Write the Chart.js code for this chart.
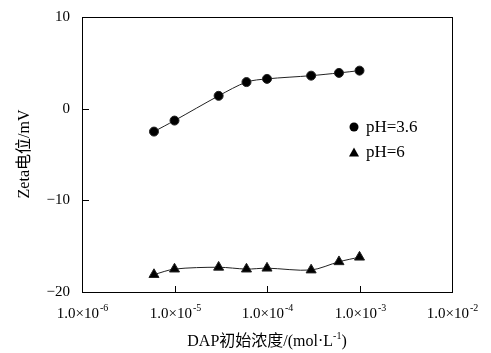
<!DOCTYPE html>
<html>
<head>
<meta charset="utf-8">
<script src="https://cdn.jsdelivr.net/npm/chart.js"></script>
<style>
  html, body { margin: 0; padding: 0; background: #fff; }
  #wrap { width: 491px; height: 353px; }
</style>
</head>
<body>
<div id="wrap"><canvas id="chart" width="491" height="353"></canvas></div>
<script>
// concentration of DAP (mol/L)
const conc = [6e-6, 1e-5, 3e-5, 6e-5, 1e-4, 3e-4, 6e-4, 1e-3];
const zetaPH36 = [-2.5, -1.3, 1.4, 2.9, 3.25, 3.6, 3.9, 4.15];
const zetaPH6 = [-18.1, -17.5, -17.3, -17.5, -17.4, -17.6, -16.7, -16.2];
const seriesNames = ['pH=3.6', 'pH=6'];
const xTickExp = [-6, -5, -4, -3, -2];
const yTicks = [10, 0, -10, -20];

const serif = '"Liberation Serif", "Times New Roman", serif';
const cjk = '"Liberation Serif", "Noto Sans CJK SC", serif';

// custom decoration: inward ticks, tick labels with superscripts, titles, legend
const decor = {
  id: 'decor',
  afterDraw(chart) {
    const ctx = chart.ctx;
    const xs = chart.scales.x, ys = chart.scales.y;
    const a = chart.chartArea;
    ctx.save();
    ctx.strokeStyle = '#000';
    ctx.fillStyle = '#000';
    ctx.lineWidth = 1;

    // y ticks + labels
    ctx.font = '15px ' + serif;
    ctx.textAlign = 'right';
    ctx.textBaseline = 'middle';
    yTicks.forEach(v => {
      const py = Math.round(ys.getPixelForValue(v)) + 0.5;
      ctx.beginPath();
      ctx.moveTo(a.left, py);
      ctx.lineTo(a.left + 7, py);
      ctx.stroke();
      const lab = v < 0 ? '\u2212' + Math.abs(v) : String(v);
      ctx.fillText(lab, a.left - 12, py);
    });

    // x ticks + labels
    xTickExp.forEach(e => {
      const px = Math.round(xs.getPixelForValue(Math.pow(10, e))) + 0.5;
      ctx.beginPath();
      ctx.moveTo(px, a.bottom);
      ctx.lineTo(px, a.bottom - 6);
      ctx.stroke();
      const base = '1.0\u00d710';
      const sup = String(e);
      ctx.font = '15px ' + serif;
      const wb = ctx.measureText(base).width;
      ctx.font = '10px ' + serif;
      const ws = ctx.measureText(sup).width + 1;
      const x0 = px - (wb + ws) / 2;
      ctx.textAlign = 'left';
      ctx.textBaseline = 'alphabetic';
      ctx.font = '15px ' + serif;
      ctx.fillText(base, x0, a.bottom + 26);
      ctx.font = '10px ' + serif;
      ctx.fillText(sup, x0 + wb + 1, a.bottom + 19);
    });

    // x title
    ctx.font = '16px ' + cjk;
    const t1 = 'DAP初始浓度/(mol·L';
    const t2 = ')';
    const sup = '-1';
    const w1 = ctx.measureText(t1).width;
    const w2 = ctx.measureText(t2).width;
    ctx.font = '10px ' + serif;
    const ws = ctx.measureText(sup).width;
    const cx = 267;
    let x0 = cx - (w1 + ws + w2) / 2;
    const by = 346;
    ctx.textAlign = 'left';
    ctx.textBaseline = 'alphabetic';
    ctx.font = '16px ' + cjk;
    ctx.fillText(t1, x0, by);
    ctx.font = '10px ' + serif;
    ctx.fillText(sup, x0 + w1, by - 7);
    ctx.font = '16px ' + cjk;
    ctx.fillText(t2, x0 + w1 + ws, by);

    // y title
    ctx.save();
    ctx.translate(25, 154);
    ctx.rotate(-Math.PI / 2);
    ctx.textAlign = 'center';
    ctx.textBaseline = 'middle';
    ctx.font = '16px ' + cjk;
    ctx.fillText('Zeta电位/mV', 0, 0);
    ctx.restore();

    // legend
    ctx.font = '17px ' + serif;
    ctx.textAlign = 'left';
    ctx.textBaseline = 'middle';
    ctx.beginPath();
    ctx.arc(354, 127, 4.5, 0, Math.PI * 2);
    ctx.fill();
    ctx.fillText(seriesNames[0], 366, 128);
    ctx.beginPath();
    ctx.moveTo(354, 147.5);
    ctx.lineTo(359, 156.5);
    ctx.lineTo(349, 156.5);
    ctx.closePath();
    ctx.fill();
    ctx.fillText(seriesNames[1], 366, 153);
    ctx.restore();
  }
};

new Chart(document.getElementById('chart'), {
  type: 'line',
  data: {
    datasets: [
      {
        label: seriesNames[0],
        data: conc.map((c, i) => ({ x: c, y: zetaPH36[i] })),
        borderColor: '#222',
        backgroundColor: '#000',
        borderWidth: 1,
        pointStyle: 'circle',
        pointRadius: 4.5,
        pointHoverRadius: 4.5,
        tension: 0.3
      },
      {
        label: seriesNames[1],
        data: conc.map((c, i) => ({ x: c, y: zetaPH6[i] })),
        borderColor: '#222',
        backgroundColor: '#000',
        borderWidth: 1,
        pointStyle: 'triangle',
        pointRadius: 5.8,
        pointHoverRadius: 5.8,
        tension: 0.3
      }
    ]
  },
  options: {
    responsive: false,
    animation: false,
    events: [],
    layout: { padding: { top: 17, right: 39, left: 0, bottom: 0 } },
    plugins: { legend: { display: false }, tooltip: { enabled: false } },
    scales: {
      x: {
        type: 'logarithmic',
        min: 1e-6,
        max: 1e-2,
        grid: { display: false },
        border: { display: true, color: '#000', width: 1 },
        ticks: { display: false },
        afterFit(s) { s.height = 61; }
      },
      y: {
        min: -20,
        max: 10,
        grid: { display: false },
        border: { display: true, color: '#000', width: 1 },
        ticks: { display: false },
        afterFit(s) { s.width = 82; }
      },
      x2: {
        type: 'linear',
        position: 'top',
        grid: { display: false },
        border: { display: true, color: '#000', width: 1 },
        ticks: { display: false },
        afterFit(s) { s.height = 0; }
      },
      y2: {
        type: 'linear',
        position: 'right',
        grid: { display: false },
        border: { display: true, color: '#000', width: 1 },
        ticks: { display: false },
        afterFit(s) { s.width = 0; }
      }
    }
  },
  plugins: [decor]
});
</script>
</body>
</html>
